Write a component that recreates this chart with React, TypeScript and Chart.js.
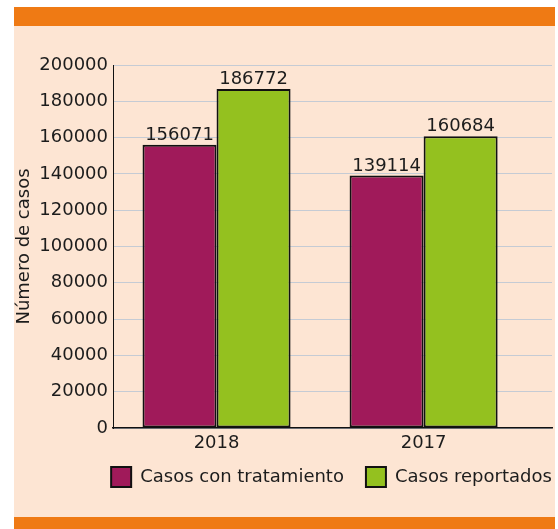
import React, { useEffect, useRef } from "react";
import { Chart, registerables } from "chart.js";

Chart.register(...registerables);

// ---- data ----
const categories = ["2018", "2017"];
const seriesNames = ["Casos con tratamiento", "Casos reportados"];
const treatedCases = [156071, 139114];
const reportedCases = [186772, 160684];
const yAxisTitle = "Número de casos";
const yTickMin = 0;
const yTickMax = 200000;
const yTickStep = 20000;

// ---- styles ----
const FAMILY = "'DejaVu Sans', sans-serif";
const TEXT = "#1c1c1c";
const PURPLE = "#A01A5A";
const GREEN = "#94C11F";
const ORANGE = "#EF7A14";
const PEACH = "#FDE5D3";
const GRID = "#C5CBD4";

const valueLabels = {
  id: "valueLabels",
  afterDatasetsDraw(chart: any) {
    const ctx = chart.ctx;
    ctx.save();
    ctx.font = `18px ${FAMILY}`;
    ctx.fillStyle = TEXT;
    ctx.textAlign = "center";
    ctx.textBaseline = "alphabetic";
    chart.data.datasets.forEach((ds: any, di: number) => {
      const meta = chart.getDatasetMeta(di);
      meta.data.forEach((el: any, i: number) => {
        const v = ds.data[i].y;
        ctx.fillText(String(v), el.x, el.y - 5);
      });
    });
    // category labels under the x axis, placed by the x scale
    const xs = chart.scales.x;
    ctx.textBaseline = "middle";
    categories.forEach((c, i) => {
      ctx.fillText(c, xs.getPixelForValue(i), xs.top + 15);
    });
    ctx.restore();
  },
};

export default function App() {
  const canvasRef = useRef<HTMLCanvasElement | null>(null);

  useEffect(() => {
    const canvas = canvasRef.current;
    if (!canvas) return;
    const font = { family: FAMILY, size: 18 };
    const chart = new Chart(canvas, {
      type: "bar",
      data: {
        datasets: [
          {
            label: seriesNames[0],
            data: treatedCases.map((v, i) => ({ x: i, y: v })),
            backgroundColor: PURPLE,
            borderColor: "#111111",
            borderWidth: 2,
            borderSkipped: false,
            categoryPercentage: 0.715,
            barPercentage: 1,
          },
          {
            label: seriesNames[1],
            data: reportedCases.map((v, i) => ({ x: i, y: v })),
            backgroundColor: GREEN,
            borderColor: "#111111",
            borderWidth: 2,
            borderSkipped: false,
            categoryPercentage: 0.715,
            barPercentage: 1,
          },
        ],
      } as any,
      options: {
        responsive: false,
        animation: false,
        layout: { padding: { top: 39, right: 0, bottom: 20, left: 0 } },
        scales: {
          x: {
            type: "linear",
            min: -0.5,
            max: 1.62,
            offset: false,
            grid: { display: false, offset: false },
            border: { display: true, color: "#111111", width: 1.5 },
            afterBuildTicks: (s: any) => {
              s.ticks = categories.map((_, i) => ({ value: i }));
            },
            afterFit: (s: any) => {
              s.height = 17;
            },
            ticks: { display: false },
          },
          y: {
            min: yTickMin,
            max: yTickMax,
            ticks: {
              stepSize: yTickStep,
              padding: 5,
              font,
              color: TEXT,
              callback: (v: any) => String(v),
            },
            grid: { color: GRID, lineWidth: 1, drawTicks: false },
            border: { display: true, color: "#111111", width: 1 },
            title: {
              display: true,
              text: yAxisTitle,
              font,
              color: TEXT,
              padding: 0,
            },
            afterFit: (s: any) => {
              s.width = 99;
            },
          },
          ySpacer: {
            position: "right",
            display: true,
            grid: { display: false, drawTicks: false },
            border: { display: false },
            ticks: { display: false },
            afterFit: (s: any) => {
              s.width = 97;
            },
          },
        } as any,
        plugins: {
          legend: {
            position: "bottom",
            align: "center",
            labels: {
              boxWidth: 20,
              boxHeight: 20,
              padding: 22,
              font,
              color: TEXT,
            },
          },
          tooltip: { enabled: false },
        },
      } as any,
      plugins: [valueLabels],
    });
    return () => chart.destroy();
  }, []);

  return (
    <div style={{ position: "relative", width: 558, height: 529, background: "#ffffff", overflow: "hidden" }}>
      <style>{"body{margin:0}"}</style>
      <div style={{ position: "absolute", left: 14, top: 7, width: 541, height: 19, background: ORANGE }} />
      <div style={{ position: "absolute", left: 14, top: 26, width: 541, height: 491, background: PEACH }} />
      <div style={{ position: "absolute", left: 14, top: 517, width: 541, height: 12, background: ORANGE }} />
      <canvas
        ref={canvasRef}
        width={635}
        height={491}
        style={{ position: "absolute", left: 14, top: 26, width: 635, height: 491 }}
      />
    </div>
  );
}
